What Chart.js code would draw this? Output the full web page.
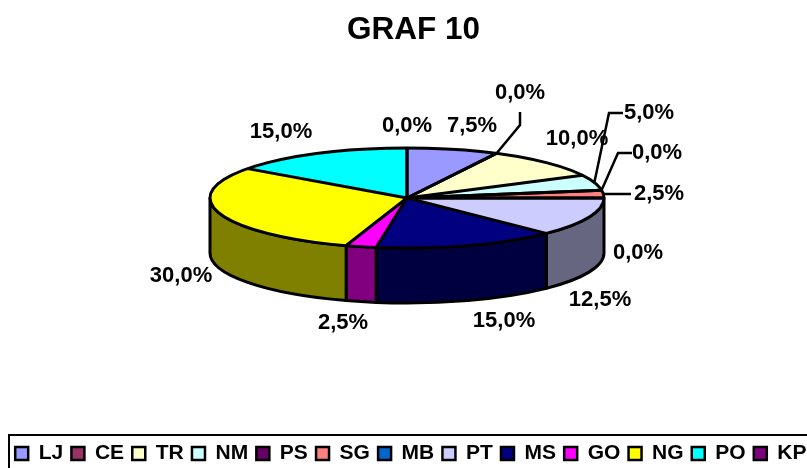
<!DOCTYPE html>
<html>
<head>
<meta charset="utf-8">
<style>
  html, body { margin: 0; padding: 0; background: #fff; }
  canvas { display: block; }
</style>
<script src="https://cdn.jsdelivr.net/npm/chart.js@4"></script>
</head>
<body>
<canvas id="canvas" width="807" height="468"></canvas>
<script>
const categories = ["LJ", "CE", "TR", "NM", "PS", "SG", "MB", "PT", "MS", "GO", "NG", "PO", "KP"];
const shares = [7.5, 0, 10, 5, 0, 2.5, 0, 12.5, 15, 2.5, 30, 15, 0];
const colors = ["#9999FF", "#993366", "#FFFFCC", "#CCFFFF", "#660066", "#FF8080", "#0066CC",
  "#CCCCFF", "#000080", "#FF00FF", "#FFFF00", "#00FFFF", "#800080"];

// where the flattened pie sits on the page
const pie3d = { x: 407, y: 198, rx: 197, ry: 50, depth: 55 };

// label centres, same order as categories
const labelSpots = [[472, 126], [520, 93], [577, 139], [649, 113], [657, 153], [659, 194], [638, 253],
  [600, 300], [504, 321], [343, 323], [181, 276], [281, 132], [407, 126]];

// leader lines: category index and the outer points of the line
const leaders = [
  { i: 1, pts: [[520, 125], [520, 112]] },
  { i: 3, pts: [[609, 113], [623, 113]] },
  { i: 4, pts: [[618, 153], [632, 153]] },
  { i: 5, pts: [[631, 194]] },
];

const FONT = "'Liberation Sans', Arial, sans-serif";

function darker(hex) {
  const n = parseInt(hex.slice(1), 16);
  const r = Math.round((n >> 16) / 2);
  const g = Math.round(((n >> 8) & 255) / 2);
  const b = Math.round((n & 255) / 2);
  return "rgb(" + r + "," + g + "," + b + ")";
}

const flatPie = {
  id: "flatPie",
  afterLayout(chart) {
    chart.legend.left += 7;
    chart.legend.right += 7;
    chart.legend.top += 6;
    chart.legend.bottom += 6;
  },
  beforeDatasetDraw(chart, args) {
    const ctx = chart.ctx;
    const arcs = args.meta.data;
    const { x, y, rx, ry, depth } = pie3d;

    // side wall, only the front half of the rim shows
    ctx.save();
    ctx.lineWidth = 3;
    ctx.strokeStyle = "#000";
    ctx.lineJoin = "round";
    arcs.forEach((arc, i) => {
      const s = Math.max(arc.startAngle, 0);
      const e = Math.min(arc.endAngle, Math.PI);
      if (e <= s) return;
      ctx.beginPath();
      ctx.ellipse(x, y, rx, ry, 0, s, e);
      ctx.ellipse(x, y + depth, rx, ry, 0, e, s, true);
      ctx.closePath();
      ctx.fillStyle = darker(colors[i]);
      ctx.fill();
      ctx.stroke();
    });
    ctx.restore();

    // top face: library draws the arcs, squashed into the ellipse
    const a = arcs[0];
    ctx.save();
    ctx.translate(x, y);
    ctx.scale(rx / a.outerRadius, ry / a.outerRadius);
    ctx.translate(-a.x, -a.y);
  },
  afterDatasetDraw(chart, args) {
    const ctx = chart.ctx;
    ctx.restore();
    const arcs = args.meta.data;
    const { x, y, rx, ry } = pie3d;

    ctx.save();
    ctx.lineWidth = 3;
    ctx.strokeStyle = "#000";
    ctx.beginPath();
    ctx.ellipse(x, y, rx, ry, 0, 0, Math.PI * 2);
    ctx.stroke();
    arcs.forEach((arc) => {
      ctx.beginPath();
      ctx.moveTo(x, y);
      ctx.lineTo(x + rx * Math.cos(arc.startAngle), y + ry * Math.sin(arc.startAngle));
      ctx.stroke();
    });

    ctx.lineWidth = 2.5;
    leaders.forEach((l) => {
      const arc = arcs[l.i];
      const mid = (arc.startAngle + arc.endAngle) / 2;
      ctx.beginPath();
      ctx.moveTo(x + rx * Math.cos(mid), y + ry * Math.sin(mid));
      l.pts.forEach((p) => ctx.lineTo(p[0], p[1]));
      ctx.stroke();
    });

    ctx.fillStyle = "#000";
    ctx.font = "bold 22px " + FONT;
    ctx.textAlign = "center";
    ctx.textBaseline = "middle";
    shares.forEach((v, i) => {
      const text = v.toFixed(1).replace(".", ",") + "%";
      ctx.fillText(text, labelSpots[i][0], labelSpots[i][1]);
    });

    // legend frame runs off the right and bottom of the page
    ctx.lineWidth = 2;
    ctx.strokeRect(9, 435, 820, 60);
    ctx.restore();
  },
};

window.onload = function () {
  const ctx = document.getElementById("canvas").getContext("2d");
  new Chart(ctx, {
    type: "pie",
    data: {
      labels: categories,
      datasets: [{ data: shares, backgroundColor: colors, borderWidth: 0, clip: false }],
    },
    options: {
      responsive: false,
      animation: false,
      // negative right padding keeps the legend on one row and centres the title at 413
      layout: { padding: { right: -20 } },
      plugins: {
        title: {
          display: true,
          text: "GRAF 10",
          color: "#000",
          font: { family: FONT, size: 31.5, weight: "bold" },
          padding: { top: 11, bottom: 10 },
        },
        legend: {
          position: "bottom",
          align: "start",
          labels: {
            color: "#000",
            font: { family: FONT, size: 21, weight: "bold" },
            boxWidth: 13,
            boxHeight: 13,
            padding: 8.2,
            generateLabels(chart) {
              const items = Chart.overrides.pie.plugins.legend.labels.generateLabels(chart);
              items.forEach((it) => {
                it.strokeStyle = "#000";
                it.lineWidth = 2.5;
              });
              return items;
            },
          },
        },
        tooltip: { enabled: false },
      },
    },
    plugins: [flatPie],
  });
};
</script>
</body>
</html>
